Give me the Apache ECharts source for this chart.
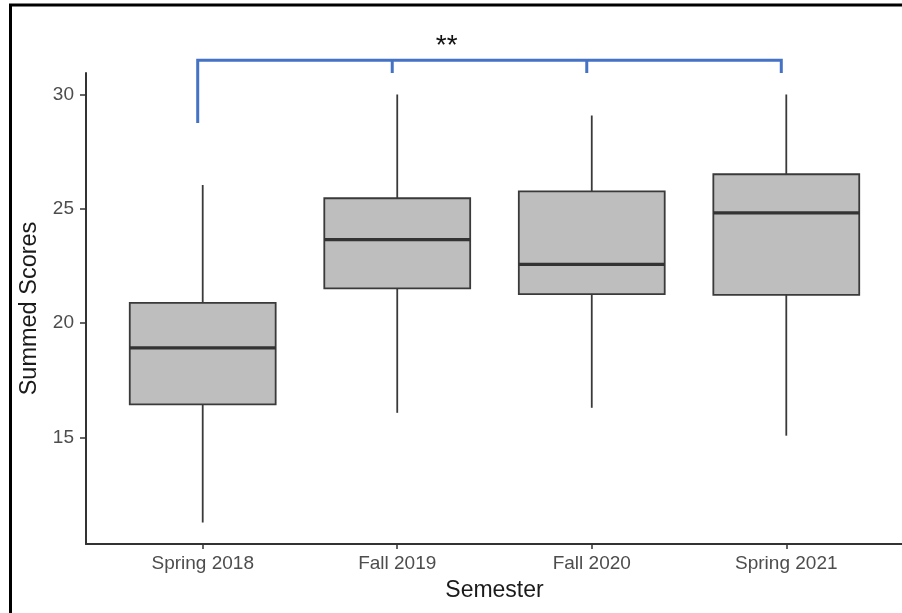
<!DOCTYPE html>
<html>
<head>
<meta charset="utf-8">
<script src="https://cdn.jsdelivr.net/npm/echarts@6/dist/echarts.min.js"></script>
<style>
  html, body { margin: 0; padding: 0; background: #fff; }
  #chart { width: 902px; height: 613px; }
</style>
</head>
<body>
<div id="chart"></div>
<script>
// Summed scores by semester: five-number summaries per box
const semesters   = ['Spring 2018', 'Fall 2019', 'Fall 2020', 'Spring 2021'];
const whiskerLow  = [11.27, 16.07, 16.29, 15.07];
const q1          = [16.44, 21.52, 21.26, 21.23];
const medians     = [18.91, 23.65, 22.57, 24.82];
const q3          = [20.88, 25.46, 25.76, 26.51];
const whiskerHigh = [26.04, 30.00, 29.08, 30.00];
const yTicks      = [15, 20, 25, 30];

// Significance bracket spanning all four semesters
const bracketGroups = [0, 1, 2, 3];
const bracketLabel = '**';
const bracketLevel = 31.5;    // horizontal bar
const bracketLeftEnd = 28.75; // long drop on the first group
const bracketTickEnd = 30.94; // short drops on the others

const chart = echarts.init(document.getElementById('chart'), null, { renderer: 'canvas' });

const boxData = semesters.map((s, i) => [i, whiskerLow[i], q1[i], medians[i], q3[i], whiskerHigh[i]]);

const FONT = 'Liberation Sans, Arial, sans-serif';

chart.setOption({
  animation: false,
  backgroundColor: '#ffffff',
  grid: { left: 86, right: -1, top: 73, bottom: 69, containLabel: false, outerBoundsMode: 'none' },
  xAxis: {
    type: 'value',
    min: -0.6,
    max: 3.6,
    name: 'Semester',
    nameLocation: 'middle',
    nameGap: 35,
    nameTextStyle: { color: '#1a1a1a', fontSize: 23, fontFamily: FONT },
    splitLine: { show: false },
    axisLine: { show: true, onZero: false, lineStyle: { color: '#333333', width: 2 } },
    axisTick: { show: true, length: 5, customValues: bracketGroups.slice(), lineStyle: { color: '#333333', width: 1.5 } },
    axisLabel: {
      customValues: bracketGroups.slice(),
      formatter: v => semesters[Math.round(v)] || '',
      color: '#4d4d4d', fontSize: 19, fontFamily: FONT, margin: 10
    }
  },
  yAxis: {
    type: 'value',
    min: 10.33,
    max: 30.94,
    name: 'Summed Scores',
    nameLocation: 'middle',
    nameGap: 33,
    nameTextStyle: { color: '#1a1a1a', fontSize: 23.5, fontFamily: FONT },
    splitLine: { show: false },
    axisLine: { show: true, onZero: false, lineStyle: { color: '#333333', width: 2 } },
    axisTick: { show: true, length: 6, customValues: yTicks, lineStyle: { color: '#333333', width: 1.5 } },
    axisLabel: { customValues: yTicks, color: '#4d4d4d', fontSize: 19, fontFamily: FONT, margin: 12 }
  },
  graphic: [{
    type: 'rect',
    silent: true,
    shape: { x: 10.5, y: 5, width: 905, height: 625 },
    style: { fill: 'none', stroke: '#000000', lineWidth: 3 },
    z: 100
  }],
  series: [
    {
      type: 'custom',
      name: 'Summed Scores',
      data: boxData,
      encode: { x: 0, y: [1, 2, 3, 4, 5] },
      renderItem: function (params, api) {
        const i = api.value(0);
        const lo = api.coord([i, api.value(1)]);
        const b1 = api.coord([i, api.value(2)]);
        const md = api.coord([i, api.value(3)]);
        const b3 = api.coord([i, api.value(4)]);
        const hi = api.coord([i, api.value(5)]);
        const halfW = api.size([0.75, 0])[0] / 2;
        const x = lo[0];
        const stroke = '#3a3a3a';
        return {
          type: 'group',
          children: [
            { type: 'line', shape: { x1: x, y1: hi[1], x2: x, y2: b3[1] }, style: { stroke: stroke, lineWidth: 1.8 } },
            { type: 'line', shape: { x1: x, y1: b1[1], x2: x, y2: lo[1] }, style: { stroke: stroke, lineWidth: 1.8 } },
            { type: 'rect', shape: { x: x - halfW, y: b3[1], width: halfW * 2, height: b1[1] - b3[1] },
              style: { fill: '#bebebe', stroke: stroke, lineWidth: 1.8 } },
            { type: 'line', shape: { x1: x - halfW, y1: md[1], x2: x + halfW, y2: md[1] },
              style: { stroke: '#333333', lineWidth: 3.2 } }
          ]
        };
      }
    },
    {
      type: 'custom',
      name: 'bracket',
      clip: false,
      silent: true,
      data: [[bracketGroups[0], bracketGroups[bracketGroups.length - 1]]],
      renderItem: function (params, api) {
        const shift = -5;
        const children = [];
        const first = api.coord([bracketGroups[0], bracketLevel]);
        const last = api.coord([bracketGroups[bracketGroups.length - 1], bracketLevel]);
        const style = { stroke: '#4472c4', lineWidth: 3, lineCap: 'butt', lineJoin: 'miter', fill: 'none' };
        const leftEnd = api.coord([bracketGroups[0], bracketLeftEnd]);
        const tickEnd = api.coord([bracketGroups[0], bracketTickEnd]);
        children.push({ type: 'polyline', shape: { points: [
          [first[0] + shift, leftEnd[1]], [first[0] + shift, first[1]], [last[0] + shift, last[1]], [last[0] + shift, tickEnd[1]]
        ] }, style: style });
        for (let k = 1; k < bracketGroups.length - 1; k++) {
          const p = api.coord([bracketGroups[k], bracketLevel]);
          children.push({ type: 'line', shape: { x1: p[0] + shift, y1: p[1], x2: p[0] + shift, y2: tickEnd[1] }, style: style });
        }
        const mid = api.coord([1.28, bracketLevel]);
        children.push({ type: 'text', style: {
          text: bracketLabel, x: mid[0] + shift, y: mid[1], align: 'center', verticalAlign: 'bottom',
          fill: '#111111', fontSize: 28, fontFamily: FONT
        } });
        return { type: 'group', children: children };
      }
    }
  ]
});
</script>
</body>
</html>
